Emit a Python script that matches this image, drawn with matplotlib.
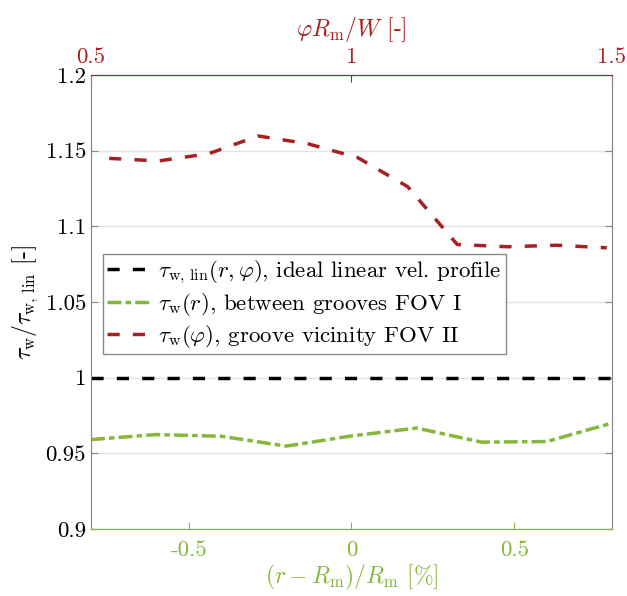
import matplotlib
matplotlib.use("Agg")
import matplotlib.pyplot as plt

plt.rcParams['font.family'] = 'serif'
plt.rcParams['font.serif'] = ['cmr10', 'DejaVu Serif']
plt.rcParams['mathtext.fontset'] = 'cm'
plt.rcParams['axes.unicode_minus'] = False

# data
r_pos = [-0.8, -0.6, -0.4, -0.2, 0.0, 0.2, 0.4, 0.6, 0.8]
tau_r = [0.9591, 0.9624, 0.9613, 0.9548, 0.9615, 0.9667, 0.9574, 0.9578, 0.9700]

phi_pos = [0.535, 0.630, 0.726, 0.821, 0.917, 1.012, 1.108, 1.203, 1.299, 1.394, 1.490]
tau_phi = [1.1449, 1.1432, 1.1480, 1.1597, 1.1545, 1.1454, 1.1262, 1.0880, 1.0865, 1.0875, 1.0858]

lin_pos = [-0.8, 0.8]
tau_lin = [1.0, 1.0]

yticks = [0.9, 0.95, 1.0, 1.05, 1.1, 1.15, 1.2]
ytick_labels = ['0.9', '0.95', '1', '1.05', '1.1', '1.15', '1.2']
rticks = [-0.5, 0, 0.5]
rtick_labels = ['-0.5', '0', '0.5']
phiticks = [0.5, 1, 1.5]
phitick_labels = ['0.5', '1', '1.5']

green = '#86B73A'
red = '#A8201F'
gray = '#8A8A8A'
fs = 16.5

fig = plt.figure(figsize=(6.27, 5.96), dpi=100)
ax = fig.add_axes([0.145, 0.1124, 0.831, 0.7618])

ax.grid(axis='y', color='#E3E3E3', lw=1)
ax.set_axisbelow(True)

l1, = ax.plot(lin_pos, tau_lin, color='black', lw=2.5, dashes=(3.5, 3.8),
              label=r'$\tau_\mathrm{w,\,lin}(r,\varphi)$, ideal linear vel. profile')
l2, = ax.plot(r_pos, tau_r, color=green, lw=2.5, dashes=(4, 1.2, 1.6, 1.2),
              label=r'$\tau_\mathrm{w}(r)$, between grooves FOV I')

ax.set_xlim(-0.8, 0.8)
ax.set_ylim(0.9, 1.2)
ax.set_xticks(rticks)
ax.set_xticklabels(rtick_labels)
ax.set_yticks(yticks)
ax.set_yticklabels(ytick_labels)
ax.tick_params(axis='x', colors=green, direction='in', length=5, labelsize=fs, pad=8)
ax.tick_params(axis='y', colors=gray, labelcolor='black', direction='in', length=5,
               labelsize=fs, right=True)
ax.set_xlabel(r'$(r-R_\mathrm{m})/R_\mathrm{m}$ [%]', color=green, fontsize=17, labelpad=2)
ax.set_ylabel(r'$\tau_\mathrm{w}/\tau_\mathrm{w,\,lin}$ [-]', color='black', fontsize=17, labelpad=4)

ax2 = ax.twiny()
l3, = ax2.plot(phi_pos, tau_phi, color=red, lw=2.5, dashes=(3.5, 3.8),
               label=r'$\tau_\mathrm{w}(\varphi)$, groove vicinity FOV II')
ax2.set_xlim(0.5, 1.5)
ax2.set_xticks(phiticks)
ax2.set_xticklabels(phitick_labels)
ax2.tick_params(axis='x', colors=red, direction='in', length=5, labelsize=fs, pad=6)
ax2.set_xlabel(r'$\varphi R_\mathrm{m}/W$ [-]', color=red, fontsize=17, labelpad=8)

for a in (ax, ax2):
    a.spines['left'].set_color(gray)
    a.spines['right'].set_color(gray)
    a.spines['bottom'].set_color(green)
    a.spines['top'].set_color(red)

leg = ax2.legend(handles=[l1, l2, l3], loc='upper left', bbox_to_anchor=(0.023, 0.605),
                 fontsize=fs, frameon=True, fancybox=False, framealpha=1,
                 edgecolor=gray, handlelength=1.9, handletextpad=0.3,
                 borderpad=0.2, labelspacing=0.2, borderaxespad=0)
leg.get_frame().set_linewidth(1)

fig.savefig('out.png', dpi=100)
